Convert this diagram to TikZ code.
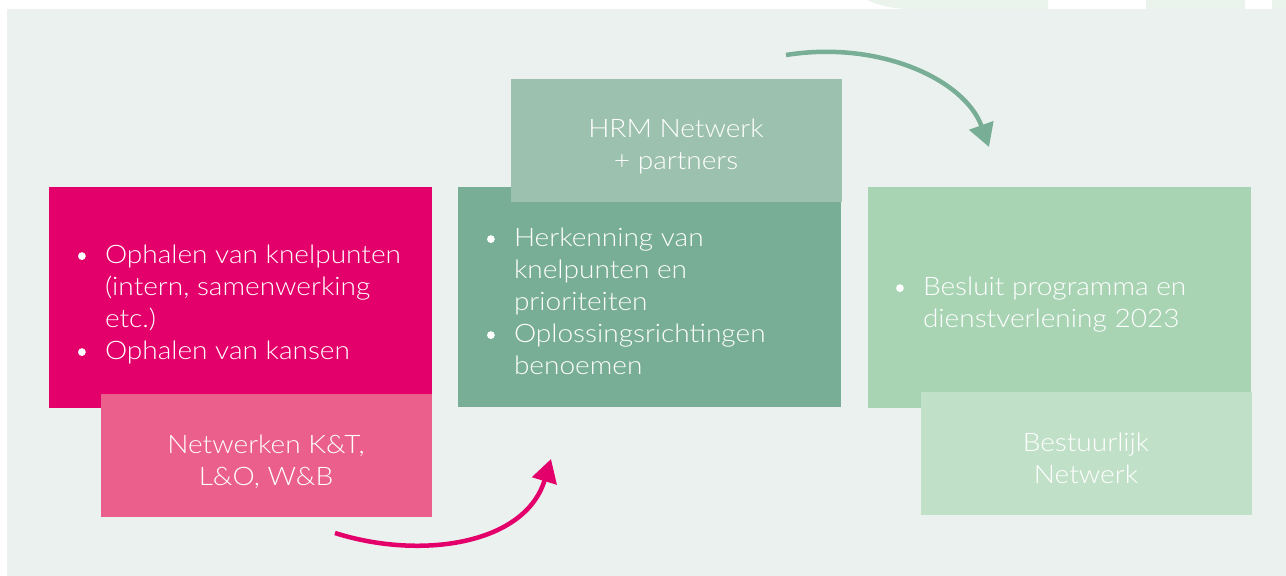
\documentclass[tikz,border=0pt]{standalone}
\usepackage{fontspec}
\setmainfont{Lato Light}[FakeStretch=1.1]
\usetikzlibrary{arrows.meta}
\definecolor{bgc}{HTML}{EBF1EE}
\definecolor{faint}{HTML}{EAF4EC}
\definecolor{pinkA}{HTML}{E4006B}
\definecolor{pinkB}{HTML}{EB5F8D}
\definecolor{tealA}{HTML}{78AD96}
\definecolor{tealB}{HTML}{9CC1AF}
\definecolor{greenA}{HTML}{A8D4B4}
\definecolor{greenB}{HTML}{C1E0C8}
\newcommand\bdot{\makebox[27pt][l]{\raisebox{3pt}{\tikz\fill[white] (0,0) circle (3.9pt);}}}
\begin{document}
\begin{tikzpicture}[x=1pt,y=-1pt,
  box/.style={rectangle, inner sep=0pt, outer sep=0pt, anchor=north west},
  txt/.style={text=white, inner sep=0pt, outer sep=0pt, font=\fontsize{25.5}{32}\selectfont},
  bultxt/.style={txt, anchor=base west},
  ctrtxt/.style={txt, anchor=base},
  arr/.style={line width=4.5pt, -{Triangle[length=23pt,width=25pt]}}]
\useasboundingbox (0,0) rectangle (1286,576);
\fill[white] (0,0) rectangle (1286,576);
\fill[bgc] (7,9) rectangle (1286,576);
\fill[faint] (867,0) .. controls (880,6) and (895,9) .. (910,9) -- (1048,9) -- (1048,0) -- cycle;
\fill[faint] (1146,0) rectangle (1245,9);
\fill[faint] (1272,0) rectangle (1286,9);
% left column
\node[box, fill=pinkA, minimum width=383pt, minimum height=221pt] (pk) at (49,187) {};
\node[box, fill=pinkB, minimum width=331pt, minimum height=123pt] (pkn) at (101,394) {};
\node[bultxt] (pkt) at (78,263) {\begin{tabular}[t]{@{}l@{}l@{}}
  \bdot & Ophalen van knelpunten\\
        & (intern, samenwerking\\
        & etc.)\\
  \bdot & Ophalen van kansen
\end{tabular}};
\node[ctrtxt] (pknt) at (266,453) {\begin{tabular}[t]{@{}c@{}}Netwerken K\&T,\\L\&O, W\&B\end{tabular}};
% middle column
\node[box, fill=tealA, minimum width=383pt, minimum height=220pt] (tl) at (458,187) {};
\node[box, fill=tealB, minimum width=331pt, minimum height=123pt] (tlh) at (511,79) {};
\node[bultxt] (tlt) at (487,246) {\begin{tabular}[t]{@{}l@{}l@{}}
  \bdot & Herkenning van\\
        & knelpunten en\\
        & prioriteiten\\
  \bdot & Oplossingsrichtingen\\
        & benoemen
\end{tabular}};
\node[ctrtxt] (tlht) at (676,137) {\begin{tabular}[t]{@{}c@{}}HRM Netwerk\\+ partners\end{tabular}};
% right column
\node[box, fill=greenA, minimum width=383pt, minimum height=221pt] (gr) at (868,187) {};
\node[box, fill=greenB, minimum width=331pt, minimum height=123pt] (grb) at (921,392) {};
\node[bultxt] (grt) at (896,295) {\begin{tabular}[t]{@{}l@{}l@{}}
  \bdot & Besluit programma en\\
        & dienstverlening 2023
\end{tabular}};
\node[ctrtxt] (grbt) at (1086,451) {\begin{tabular}[t]{@{}c@{}}Bestuurlijk\\Netwerk\end{tabular}};
% arrows
\coordinate (ga) at (786,55);
\coordinate (gb) at (989,147);
\draw[arr, draw=tealA] (ga) .. controls (880,40) and (965,80) .. (gb);
\coordinate (pa) at (335,533);
\coordinate (pb) at (551,459);
\draw[arr, draw=pinkA] (pa) .. controls (420,560) and (525,545) .. (pb);
\end{tikzpicture}
\end{document}
